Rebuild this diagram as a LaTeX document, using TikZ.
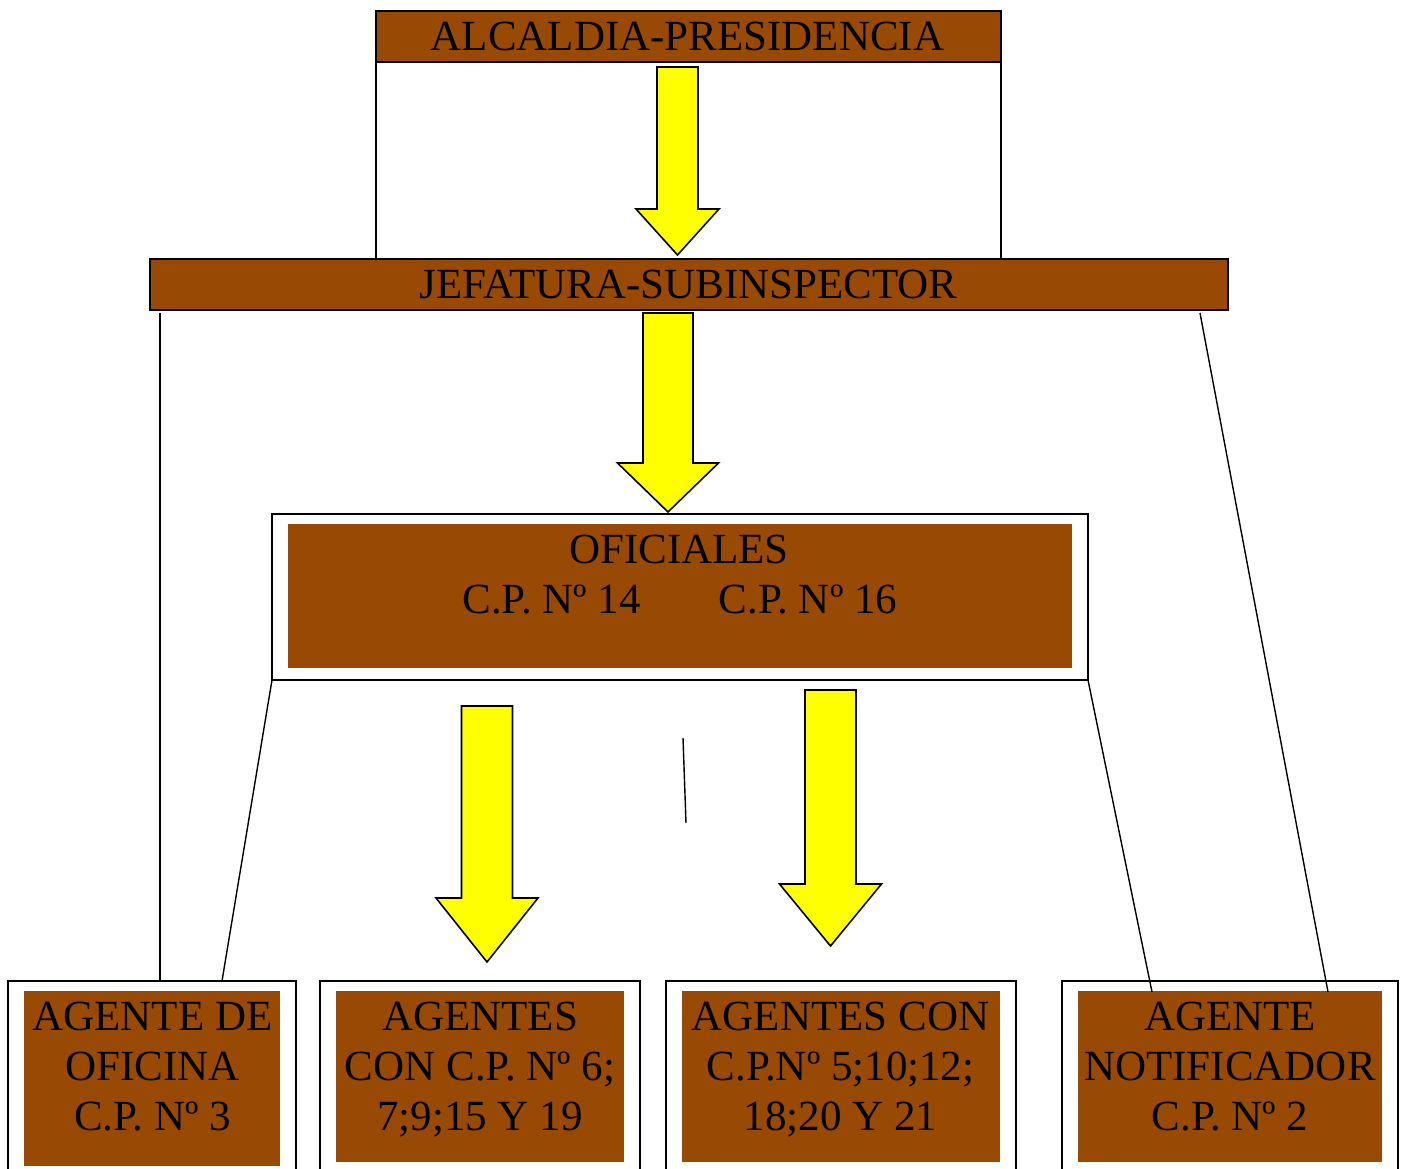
\documentclass[tikz,border=0pt]{standalone}
\usepackage{fontspec}
\setmainfont{Liberation Serif}
\definecolor{brn}{RGB}{152,73,4}
\newcommand{\fatarrow}[6]{% cx, top, headstart, tip, halfshaft, halfhead
  \draw[arrowfill] (#1-#5,#2) -- (#1+#5,#2) -- (#1+#5,#3) -- (#1+#6,#3) -- (#1,#4) -- (#1-#6,#3) -- (#1-#5,#3) -- cycle;}
\begin{document}
\begin{tikzpicture}[x=1pt,y=-1pt,
  brownbox/.style={draw=black,line width=2pt,fill=brn,rectangle,inner sep=0pt,outer sep=0pt},
  innerbrown/.style={fill=brn,rectangle,inner sep=0pt,outer sep=0pt},
  framebox/.style={draw=black,line width=1.8pt,fill=white,rectangle,inner sep=0pt,outer sep=0pt},
  conn/.style={draw=black,line width=1.4pt},
  lbl/.style={font=\fontsize{43}{50}\selectfont,anchor=base,inner sep=0pt,text=black},
  arrowfill/.style={fill={rgb,255:red,255;green,255;blue,0},draw=black,line width=1.6pt,line join=miter}]
\useasboundingbox (0,0) rectangle (1405,1169);
\clip (0,0) rectangle (1405,1169);
\fill[white] (0,0) rectangle (1405,1169);

% top boxes
\node[brownbox,minimum width=625pt,minimum height=51pt] (alc) at (688.5,36.5) {};
\node[brownbox,minimum width=1078pt,minimum height=51pt] (jef) at (689,284.5) {};
\node[lbl] (alct) at (687.5,51) {ALCALDIA-PRESIDENCIA};
\node[lbl] (jeft) at (688.5,298.5) {JEFATURA-SUBINSPECTOR};

% oficiales
\node[framebox,minimum width=816pt,minimum height=166pt] (ofo) at (680,597) {};
\node[innerbrown,minimum width=784pt,minimum height=144pt] (ofi) at (680,596) {};
\node[lbl] (oft1) at (679,563) {OFICIALES};
\node[lbl] (oft2) at (551.5,613) {C.P. Nº 14};
\node[lbl] (oft3) at (808,613) {C.P. Nº 16};

% bottom boxes
\node[framebox,minimum width=288pt,minimum height=219pt] (b1o) at (152,1090.5) {};
\node[innerbrown,minimum width=256pt,minimum height=175pt] (b1i) at (152,1078.5) {};
\node[framebox,minimum width=320pt,minimum height=219pt] (b2o) at (480,1090.5) {};
\node[innerbrown,minimum width=288pt,minimum height=171pt] (b2i) at (480,1076.5) {};
\node[framebox,minimum width=350pt,minimum height=219pt] (b3o) at (841,1090.5) {};
\node[innerbrown,minimum width=318pt,minimum height=171pt] (b3i) at (841,1076.5) {};
\node[framebox,minimum width=336pt,minimum height=219pt] (b4o) at (1230,1090.5) {};
\node[innerbrown,minimum width=304pt,minimum height=171pt] (b4i) at (1230,1076.5) {};

\node[lbl] (b1a) at (152.5,1030) {AGENTE DE};
\node[lbl] (b1b) at (152.5,1080) {OFICINA};
\node[lbl] (b1c) at (152.5,1130) {C.P. Nº 3};
\node[lbl] (b2a) at (480,1030) {AGENTES};
\node[lbl] (b2b) at (480,1080) {CON C.P. Nº 6;};
\node[lbl] (b2c) at (480,1130) {7;9;15 Y 19};
\node[lbl] (b3a) at (840.5,1030) {AGENTES CON};
\node[lbl] (b3b) at (840.5,1080) {C.P.Nº 5;10;12;};
\node[lbl] (b3c) at (840.5,1130) {18;20 Y 21};
\node[lbl] (b4a) at (1230,1030) {AGENTE};
\node[lbl] (b4b) at (1230,1080) {NOTIFICADOR};
\node[lbl] (b4c) at (1230,1130) {C.P. Nº 2};

% connectors
\draw[conn] (alc.south west) -- (alc.south west |- jef.north);
\draw[conn] (alc.south east) -- (alc.south east |- jef.north);
\draw[conn] ([shift={(10,3)}]jef.south west) coordinate (jl) -- (jl |- b1o.north);
\draw[conn] ([shift={(-28,3)}]jef.south east) -- ([shift={(-70,11)}]b4o.north east);
\draw[conn] (ofo.south west) -- ([shift={(214,0)}]b1o.north west);
\draw[conn] (ofo.south east) -- ([shift={(90,11)}]b4o.north west);
\coordinate (s1) at (683,738);
\coordinate (s2) at (686,823);
\draw[conn] (s1) -- (s2);

% yellow arrows
\fatarrow{677.5}{67}{209}{255}{20.5}{41.5}
\fatarrow{668}{313}{463}{512}{25}{50.5}
\fatarrow{487}{706}{898}{962}{25.5}{51}
\fatarrow{830.5}{690}{884}{946}{25.5}{51}
\end{tikzpicture}
\end{document}
